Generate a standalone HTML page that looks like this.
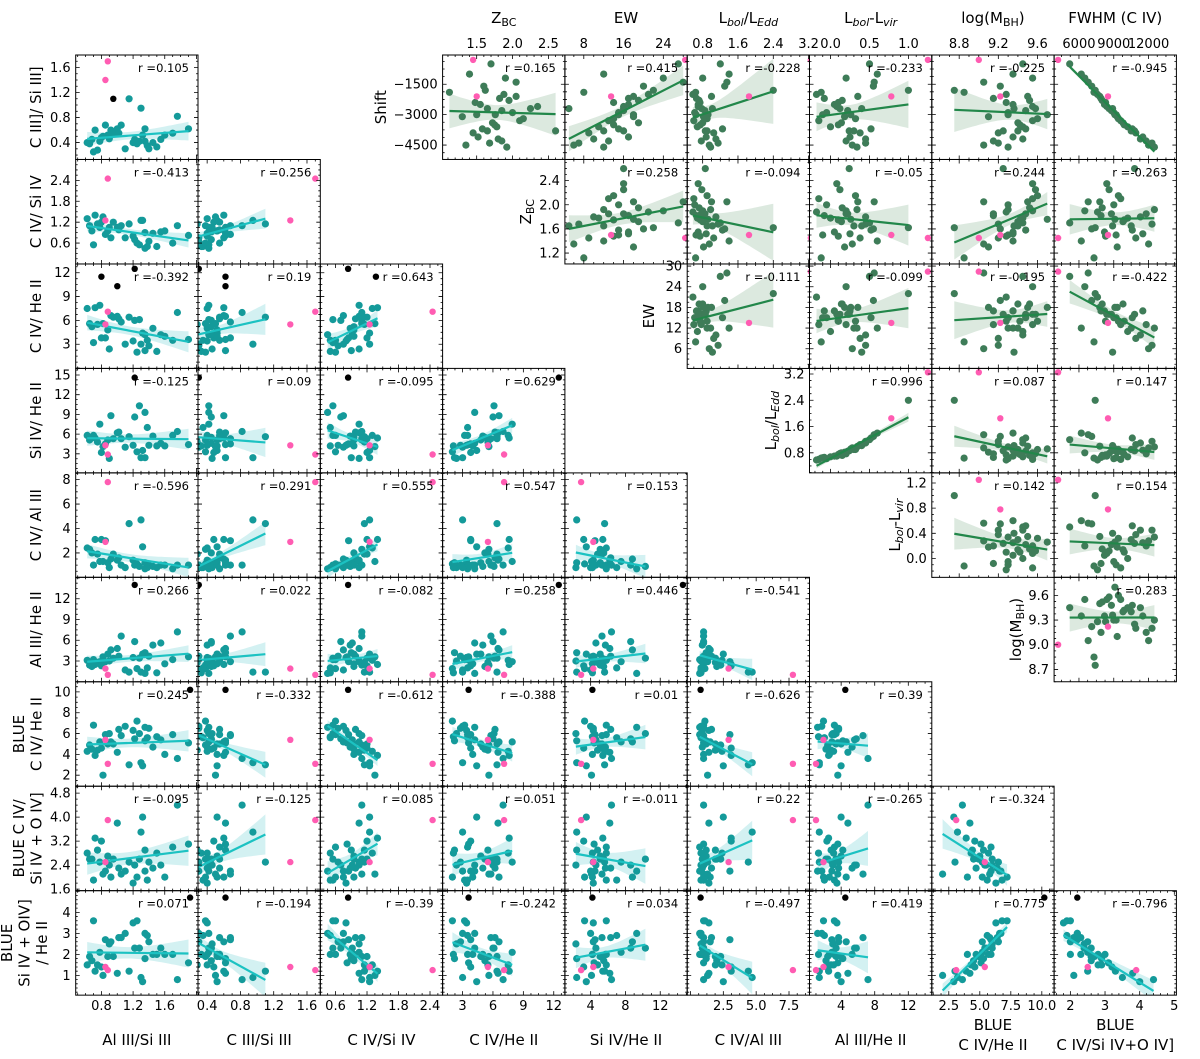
<!DOCTYPE html>
<html><head><meta charset="utf-8">
<style>
html,body{margin:0;padding:0;background:#fff;}
svg{display:block;font-family:"DejaVu Sans","Liberation Sans",sans-serif;}
</style></head>
<body>
<svg id="chart" width="1200" height="1059" viewBox="0 0 1200 1059" xmlns="http://www.w3.org/2000/svg"></svg>
<script>
// ---------- data: line ratios (teal objects) ----------
const alIIISiIII = [0.62,0.65,0.70,0.72,0.75,0.78,0.80,0.85,0.88,0.90,0.92,0.95,1.00,1.02,1.05,1.20,1.22,1.25,1.28,1.30,1.32,1.35,1.35,1.38,1.40,1.45,1.50,1.55,1.60,1.70,1.76,0.68,0.82,1.10,1.90,1.15];
const cIIISiIII = [0.40,0.38,0.25,0.60,0.28,0.42,0.48,0.68,0.52,0.46,0.60,0.55,0.62,0.55,0.68,0.40,0.45,0.38,0.42,0.95,0.52,0.62,0.42,0.35,0.30,0.40,0.33,0.45,0.52,0.55,0.82,0.45,0.50,0.30,0.62,1.10];
const cIVSiIV = [1.30,1.10,0.55,1.40,1.15,1.05,1.20,0.85,0.95,1.05,0.75,1.20,1.05,0.98,1.10,0.80,0.70,0.60,0.55,1.25,1.25,0.90,0.45,0.50,0.65,0.88,0.50,0.92,0.95,0.60,1.10,0.95,1.35,0.75,0.82,1.15];
const cIVHeII = [7.5,5.6,3.2,7.6,5.5,7.9,3.8,3.8,4.8,2.4,6.6,6.4,6.5,6.2,5.8,3.4,6.0,2.0,6.1,3.0,4.4,2.2,4.2,3.5,2.8,5.0,2.1,4.2,4.0,3.5,7.0,5.2,5.6,3.0,3.6,6.4];
const siIVHeII = [5.8,5.1,5.8,5.4,4.8,7.5,3.2,4.5,5.1,2.3,8.8,5.3,6.2,6.3,5.3,4.3,8.6,3.3,10.3,2.4,3.5,2.4,9.3,7.0,4.3,5.7,4.2,4.6,4.2,5.8,6.4,5.5,4.1,4.0,4.4,5.6];
const cIVAlIII = [2.4,2.3,1.0,3.1,1.9,1.3,3.1,3.0,1.2,0.8,1.5,1.9,1.4,1.6,1.0,1.4,1.0,1.1,0.9,4.7,2.5,1.2,0.7,0.8,1.0,0.9,0.8,1.0,1.0,0.7,1.0,2.0,1.3,0.8,1.0,4.4];
const alIIIHeII = [3.1,2.4,3.2,2.5,2.8,2.9,2.3,2.9,4.0,3.0,4.6,3.4,4.8,3.7,6.6,3.5,5.8,1.9,3.4,1.4,4.0,4.2,1.2,2.0,3.7,5.3,1.3,5.6,2.6,3.2,7.2,2.2,3.6,1.7,3.6,1.4];
const blueCIVHeII = [4.3,4.9,6.8,3.9,4.4,5.2,4.6,5.9,5.0,6.0,5.2,5.0,4.2,6.4,5.8,6.3,5.5,7.2,6.0,3.2,2.9,5.3,6.6,5.6,6.5,4.7,5.7,5.4,4.0,5.9,3.6,4.5,2.0,6.7,5.1,3.0];
const blueCIVSiIVOIV = [2.8,2.6,1.9,3.3,2.9,2.5,3.2,2.2,2.7,2.4,2.0,2.6,3.8,2.3,2.1,1.8,2.4,2.0,2.6,3.5,4.0,2.9,2.2,1.9,2.5,2.3,2.8,2.4,2.0,3.0,4.4,2.6,2.1,2.2,3.1,2.5];
const blueSiIVOIVHeII = [1.5,1.9,3.6,1.2,1.5,2.1,1.4,2.7,1.9,2.5,2.6,1.9,1.1,2.8,2.8,3.5,2.3,3.6,2.3,0.9,0.7,1.8,3.0,2.9,2.6,2.0,2.0,2.3,2.0,2.0,0.8,1.7,1.0,3.0,1.6,1.2];
// ---------- data: physical properties (green objects) ----------
const shiftVals = [-3800,-2500,-4200,-1200,-3000,-2100,-3500,-4500,-1600,-2800,-3300,-500,-2300,-3900,-2700,-1800,-3600,-4100,-2900,-1000,-3200,-2000,-4400,-3100,-2600,-3700,-2200,-4600,-3400,-1400,-2400,-3000,-1900,-3800,-2700,-4300];
const zbcVals = [1.65,1.55,1.80,1.90,1.50,2.05,1.75,1.35,1.60,1.85,2.10,1.70,1.95,1.45,2.25,1.62,1.78,1.52,2.00,1.40,2.15,1.88,1.68,1.30,2.35,1.58,1.82,1.92,1.72,2.05,1.48,1.76,1.12,2.60,1.65,1.85];
const ewVals = [12,17,10,24,15,18,14,6,20,16,13,27,19,9,16,22,11,17,15,12,14,21,7,18,16,15,17,12,19,28,14,18,8,16,5,13];
const lbolLeddVals = [0.90,0.70,1.10,0.80,0.65,1.00,0.75,0.95,1.30,0.85,0.60,1.20,0.72,1.05,0.78,2.40,0.68,0.88,0.62,1.40,0.90,0.58,1.15,0.82,0.70,1.25,0.66,0.98,0.80,1.35,0.74,0.92,0.64,0.86,1.02,0.77];
const lbolLvirVals = [0.30,0.05,0.45,0.20,-0.10,0.35,0.10,0.28,0.55,0.22,-0.15,0.50,0.15,0.38,0.12,1.00,0.00,0.25,-0.05,0.60,0.32,-0.18,0.45,0.18,0.08,0.52,-0.08,0.34,0.14,0.56,0.10,0.26,-0.12,0.24,0.40,0.20];
const logMbhVals = [9.40,9.35,9.45,9.55,9.30,9.50,9.42,9.05,9.22,9.48,9.55,9.45,9.52,9.20,9.58,8.75,9.45,9.35,9.30,9.35,9.60,9.28,9.20,9.10,9.55,9.48,9.15,9.30,9.40,9.05,9.28,9.70,8.85,9.25,9.36,9.15];
const fwhmVals = [10500,8200,11300,6500,9200,7800,9900,12000,7100,8800,9600,5200,8000,10900,8600,7400,10200,11500,9000,6200,9400,7600,12300,9300,8400,10600,7900,12500,9800,6800,8300,9100,7300,10800,8900,11800];
// ---------- outliers ----------
const pinkVals = {A:[0.88,0.85],B:[1.70,1.40],C:[2.45,1.25],D:[7.1,5.5],E:[2.9,4.3],F:[7.8,2.9],G:[1.0,1.9],H:[3.1,5.4],I:[3.9,2.5],J:[1.25,1.4],
  S:[-300,-2100],Z:[1.45,1.5],W:[28.4,13.5],L:[3.25,1.85],V:[1.25,0.78],M:[9.0,9.22],Fw:[4200,8500]};
const blackVals = {A:[1.92,0.80,1.00,1.22,0.95],B:[0.62,0.62,0.62,0.30,1.10],C:[0.84,1.37,null,0.84,null],D:[3.6,11.5,10.3,12.5,null],
  E:[4.2,null,null,14.6,null],F:[0.77,null,null,null,null],G:[4.5,null,null,14,null],H:[10.2,null,null,null,null],I:[2.2,null,null,null,null],J:[4.7,null,null,null,null]};
const blackShownRows = [['H','J'],['D'],['D'],['D','E','G'],['B']];
// ---------- correlation labels ----------
const rLower = [["0.105"],["-0.413","0.256"],["-0.392","0.19","0.643"],["-0.125","0.09","-0.095","0.629"],["-0.596","0.291","0.555","0.547","0.153"],
  ["0.266","0.022","-0.082","0.258","0.446","-0.541"],["0.245","-0.332","-0.612","-0.388","0.01","-0.626","0.39"],
  ["-0.095","-0.125","0.085","0.051","-0.011","0.22","-0.265","-0.324"],["0.071","-0.194","-0.39","-0.242","0.034","-0.497","0.419","0.775","-0.796"]];
const rUpper = [["0.165","0.415","-0.228","-0.233","-0.225","-0.945"],["0.258","-0.094","-0.05","0.244","-0.263"],["-0.111","-0.099","-0.195","-0.422"],["0.996","0.087","0.147"],["0.142","0.154"],["0.283"]];
// ---------- axis ticks ----------
const xTickLabels = {A:["0.8","1.2","1.6"],B:["0.4","0.8","1.2","1.6"],C:["0.6","1.2","1.8","2.4"],D:["3","6","9","12"],E:["4","8","12"],F:["2.5","5.0","7.5"],G:["4","8","12"],H:["2.5","5.0","7.5","10.0"],I:["2","3","4","5"],
  Z:["1.5","2.0","2.5"],W:["8","16","24"],L:["0.8","1.6","2.4","3.2"],V:["0.0","0.5","1.0"],M:["8.8","9.2","9.6"],Fw:["6000","9000","12000"]};
const yTickLabels = {B:["0.4","0.8","1.2","1.6"],C:["0.6","1.2","1.8","2.4"],D:["3","6","9","12"],E:["3","6","9","12","15"],F:["2","4","6","8"],G:["3","6","9","12"],H:["2","4","6","8","10"],I:["1.6","2.4","3.2","4.0","4.8"],J:["1","2","3","4"],
  S:["-4500","-3000","-1500"],Z:["1.2","1.6","2.0","2.4"],W:["6","12","18","24","30"],L:["0.8","1.6","2.4","3.2"],V:["0.0","0.4","0.8","1.2"],M:["8.7","9.0","9.3","9.6"]};

const DATA = {A:alIIISiIII,B:cIIISiIII,C:cIVSiIV,D:cIVHeII,E:siIVHeII,F:cIVAlIII,G:alIIIHeII,H:blueCIVHeII,I:blueCIVSiIVOIV,J:blueSiIVOIVHeII,
  S:shiftVals,Z:zbcVals,W:ewVals,L:lbolLeddVals,V:lbolLvirVals,M:logMbhVals,Fw:fwhmVals};
const XR = {A:[0.475,2.02],B:[0.29,1.76],C:[0.31,2.64],D:[1.03,13.1],E:[1.04,15.1],F:[-0.25,9.06],G:[0.23,14.8],H:[1.13,10.99],I:[1.53,5.06],
  Z:[1.025,2.73],W:[4.2,28.8],L:[0.45,3.22],V:[-0.27,1.3],M:[8.52,9.77],Fw:[3857,14400]};
const YR = {B:[0.13,1.8],C:[0.0,3.0],D:[-0.05,13.1],E:[0.1,16],F:[0,8.55],G:[0,15.1],H:[0.94,10.97],I:[1.55,5.03],J:[0.06,5.03],
  S:[-5208,-60],Z:[1.02,2.75],W:[0.28,30.6],L:[0.19,3.37],V:[-0.3,1.36],M:[8.55,9.82]};

const PW=122.3, PH=104.45;
const colLeft=[75.7,198,320.3,442.6,564.9,687.2,809.5,931.8,1054.1];
const rowTop=[55,159.5,264,368.4,472.9,577.3,681.8,786.2,890.7];
const NS="http://www.w3.org/2000/svg";
const svg=document.getElementById('chart');
const THEME={teal:{pt:'#149a9a',line:'#1cc2c2',band:'#d3f1f2'},green:{pt:'#3e7c58',line:'#22874a',band:'#dce9df'}};
function mk(tag,attrs,parent){const e=document.createElementNS(NS,tag);for(const k in attrs)e.setAttribute(k,attrs[k]);(parent||svg).appendChild(e);return e;}
function fmt(s){return s.replace('-','\u2212');}
let clipId=0;

function minorDiv(step){const m=step/Math.pow(10,Math.floor(Math.log10(step)+1e-9));return (Math.abs(m-1)<1e-6||Math.abs(m-5)<1e-6)?5:4;}
function drawTicks(g,x0,y0,xr,yr,xl,yl){
  const sx=v=>x0+(v-xr[0])/(xr[1]-xr[0])*PW, sy=v=>y0+PH-(v-yr[0])/(yr[1]-yr[0])*PH;
  const xv=xl.map(parseFloat), yv=yl.map(parseFloat);
  const xs=xv[1]-xv[0], ys=yv[1]-yv[0];
  let d='';
  const nx=minorDiv(xs), mxs=xs/nx;
  for(let k=Math.ceil(xr[0]/mxs-1e-6);k*mxs<=xr[1]+1e-9;k++){const v=k*mxs;const major=Math.abs(Math.round(k/nx)*nx-k)<1e-6;const L=major?4:2;const X=sx(v);
    d+=`M${X},${y0+PH}v${-L}M${X},${y0}v${L}`;}
  const ny=minorDiv(ys), mys=ys/ny;
  for(let k=Math.ceil(yr[0]/mys-1e-6);k*mys<=yr[1]+1e-9;k++){const v=k*mys;const major=Math.abs(Math.round(k/ny)*ny-k)<1e-6;const L=major?4:2;const Y=sy(v);
    d+=`M${x0},${Y}h${L}M${x0+PW},${Y}h${-L}`;}
  const t=mk('path',{d:d,stroke:'#000','stroke-width':0.8,fill:'none'},g);
  
  
}

function drawPanel(xv,yv,x0,y0,theme,rStr,name,showBlack){
  const xr=XR[xv], yr=YR[yv], th=THEME[theme];
  const sx=v=>x0+(v-xr[0])/(xr[1]-xr[0])*PW, sy=v=>y0+PH-(v-yr[0])/(yr[1]-yr[0])*PH;
  const g=mk('g',{});
  
  
  const cid='clip'+(clipId++);
  const cp=mk('clipPath',{id:cid},g);mk('rect',{x:x0,y:y0,width:PW,height:PH},cp);
  const inner=mk('g',{'clip-path':`url(#${cid})`},g);
  const X=DATA[xv], Y=DATA[yv];
  const px=[],py=[];
  for(let i=0;i<X.length;i++){if(X[i]!=null&&Y[i]!=null){px.push(X[i]);py.push(Y[i]);}}
  const n=px.length; const mx=px.reduce((a,b)=>a+b,0)/n, my=py.reduce((a,b)=>a+b,0)/n;
  let sxx=0,sxy=0;for(let i=0;i<n;i++){sxx+=(px[i]-mx)**2;sxy+=(px[i]-mx)*(py[i]-my);}
  const b=sxy/sxx, a=my-b*mx; let sse=0;for(let i=0;i<n;i++)sse+=(py[i]-a-b*px[i])**2;
  const s=Math.sqrt(sse/(n-2));
  const xmin=Math.min(...px), xmax=Math.max(...px);
  const up=[],lo=[];
  for(let k=0;k<=30;k++){const xx=xmin+(xmax-xmin)*k/30;const se=s*Math.sqrt(1/n+(xx-mx)**2/sxx)*2.03;const yy=a+b*xx;
    up.push(`${sx(xx).toFixed(1)},${sy(yy+se).toFixed(1)}`);lo.unshift(`${sx(xx).toFixed(1)},${sy(yy-se).toFixed(1)}`);}
  const band=mk('polygon',{points:up.concat(lo).join(' '),fill:th.band,stroke:'none'},inner);
  
  
  for(let i=0;i<n;i++){
    const c=mk('circle',{cx:sx(px[i]).toFixed(1),cy:sy(py[i]).toFixed(1),r:3.6,fill:th.pt},inner);
    
    
  }
  const ln=mk('line',{x1:sx(xmin),y1:sy(a+b*xmin),x2:sx(xmax),y2:sy(a+b*xmax),stroke:th.line,'stroke-width':2.2},inner);
  
  
  const PX=pinkVals[xv],PY=pinkVals[yv];
  for(let i=0;i<PX.length;i++){
    const c=mk('circle',{cx:sx(PX[i]).toFixed(1),cy:sy(PY[i]).toFixed(1),r:3.2,fill:'#ff5cb2'},inner);
    
    
  }
  if(showBlack&&blackVals[xv]&&blackVals[yv]){
    const BX=blackVals[xv],BY=blackVals[yv];
    for(let i=0;i<BX.length;i++){if(BX[i]==null||BY[i]==null)continue;
      if(blackShownRows[i].indexOf(yv)<0)continue;
      const c=mk('circle',{cx:sx(BX[i]).toFixed(1),cy:sy(BY[i]).toFixed(1),r:3.2,fill:'#000'},inner);
      
      
    }
  }
  const fr=mk('rect',{x:x0,y:y0,width:PW,height:PH,fill:'none',stroke:'#000','stroke-width':1},g);
  
  
  drawTicks(g,x0,y0,xr,yr,xTickLabels[xv],yTickLabels[yv]);
  const t=mk('text',{x:x0+PW-9,y:y0+17,'text-anchor':'end','font-size':11.5,fill:'#000'},g);
  t.textContent='r ='+rStr;
  
  
  return {sx,sy};
}

function rich(parent,x,y,parts,opts){
  const t=mk('text',Object.assign({x:x,y:y,'font-size':15,'text-anchor':'middle',fill:'#000'},opts||{}),parent);
  parts.forEach(p=>{const ts=mk('tspan',{},t);ts.textContent=p[0];
    if(p[1]){ts.setAttribute('font-size','11');ts.setAttribute('dy','3');}
    if(p[2])ts.setAttribute('font-style','italic');});
  let prevSub=false;[...t.childNodes].forEach((ts,i)=>{const sub=parts[i][1];if(!sub&&prevSub)ts.setAttribute('dy','-3');prevSub=sub;});
  return t;
}

// ---------- lower-left triangle ----------
const rowVars=['B','C','D','E','F','G','H','I','J'];
const colVars=['A','B','C','D','E','F','G','H','I'];
for(let r=0;r<9;r++){for(let c=0;c<=r;c++){
  const p=drawPanel(colVars[c],rowVars[r],colLeft[c],rowTop[r],'teal',rLower[r][c],'scatter-'+rowVars[r]+'-vs-'+colVars[c],true);
  if(c===0){
    yTickLabels[rowVars[r]].forEach(s=>{const yy=p.sy(parseFloat(s));
      const t=mk('text',{x:colLeft[0]-5,y:yy+4.5,'text-anchor':'end','font-size':13},svg);t.textContent=fmt(s);
      
      });
  }
  if(r===8){
    xTickLabels[colVars[c]].forEach(s=>{const xx=p.sx(parseFloat(s));
      const t=mk('text',{x:xx,y:1010,'text-anchor':'middle','font-size':13},svg);t.textContent=fmt(s);
      
      });
  }
}}
// ---------- upper-right triangle ----------
const gRowVars=['S','Z','W','L','V','M'];
const gColVars=['Z','W','L','V','M','Fw'];
for(let r=0;r<6;r++){for(let c=r;c<6;c++){
  const p=drawPanel(gColVars[c],gRowVars[r],colLeft[c+3],rowTop[r],'green',rUpper[r][c-r],'scatter-'+gRowVars[r]+'-vs-'+gColVars[c],false);
  if(c===r){
    yTickLabels[gRowVars[r]].forEach(s=>{const yy=p.sy(parseFloat(s));
      const t=mk('text',{x:colLeft[c+3]-5,y:yy+4.5,'text-anchor':'end','font-size':13},svg);t.textContent=fmt(s);
      
      });
  }
  if(r===0){
    xTickLabels[gColVars[c]].forEach(s=>{const xx=p.sx(parseFloat(s));
      const t=mk('text',{x:xx,y:48,'text-anchor':'middle','font-size':13},svg);t.textContent=fmt(s);
      
      });
  }
}}

// ---------- axis titles ----------
function rotLabel(x,yc,lines,name){
  const g=mk('g',{transform:`translate(${x},${yc}) rotate(-90)`});
  
  
  lines.forEach((ln,i)=>{rich(g,0,i*17.5,ln,{});});
  return g;
}
const lowerTitles=[
  [[["C III]/ Si III]"]]],[[["C IV/ Si IV"]]],[[["C IV/ He II"]]],[[["Si IV/ He II"]]],[[["C IV/ Al III"]]],[[["Al III/ He II"]]],
  [[["BLUE"]],[["C IV/ He II"]]],[[["BLUE  C IV/"]],[["Si IV + O IV]"]]],[[["BLUE"]],[["Si IV + OIV]"]],[["/ He II"]]]
];
const lowerTitleX=[41,41,41,41,41,41,24,24,12];
lowerTitles.forEach((ls,r)=>rotLabel(lowerTitleX[r],rowTop[r]+PH/2,ls,'row-title-'+rowVars[r]));

const bottomTitles=[["Al III/Si III"],["C III/Si III"],["C IV/Si IV"],["C IV/He II"],["Si IV/He II"],["C IV/Al III"],["Al III/He II"],["BLUE","C IV/He II"],["BLUE","C IV/Si IV+O IV]"]];
bottomTitles.forEach((ls,c)=>{
  const g=mk('g',{});
  
  
  const x=colLeft[c]+PW/2;
  if(ls.length===1){const t=mk('text',{x:x,y:1045,'text-anchor':'middle','font-size':15},g);t.textContent=ls[0];}
  else{ls.forEach((s,i)=>{const t=mk('text',{x:x,y:1030+i*20,'text-anchor':'middle','font-size':15},g);t.textContent=s;});}
});

const topTitles=[[["Z"],["BC",1]],[["EW"]],[["L"],["bol",1,1],["/L"],["Edd",1,1]],[["L"],["bol",1,1],["-L"],["vir",1,1]],[["log(M"],["BH",1],[")"]],[["FWHM (C IV)"]]];
topTitles.forEach((parts,c)=>{
  const t=rich(svg,colLeft[c+3]+PW/2,23,parts,{});
  
  
});
const greenYTitles=[[["Shift"]],[["Z"],["BC",1]],[["EW"]],[["L"],["bol",1,1],["/L"],["Edd",1,1]],[["L"],["bol",1,1],["-L"],["vir",1,1]],[["log(M"],["BH",1],[")"]]];
const greenYTitleX=[386,531,654,776,900,1021];
greenYTitles.forEach((parts,r)=>rotLabel(greenYTitleX[r],rowTop[r]+PH/2,[parts],'y-axis-title-'+gRowVars[r]));
</script>
</body></html>
